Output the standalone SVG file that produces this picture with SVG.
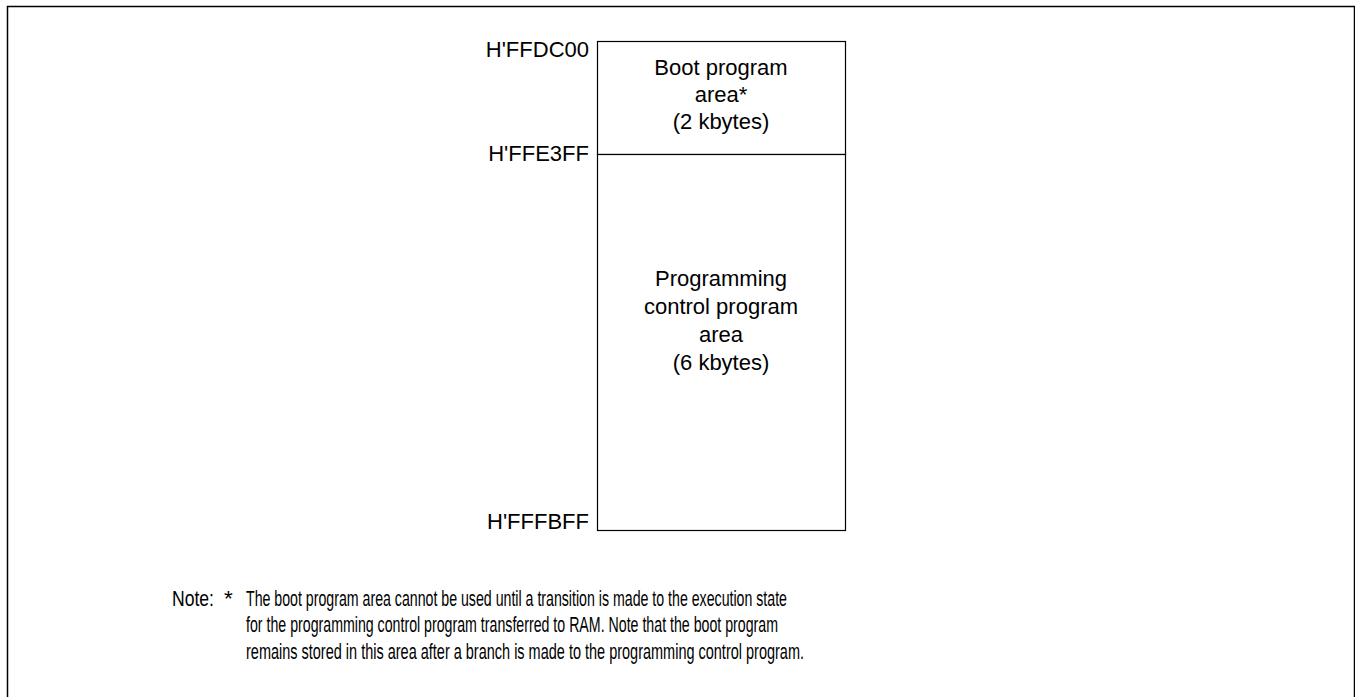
<svg xmlns="http://www.w3.org/2000/svg" width="1355" height="697" viewBox="0 0 1355 697">
<style>
.t{font-family:"Liberation Sans",Arial,sans-serif;font-size:22px;fill:#000}
.c{text-anchor:middle}
.r{text-anchor:end}
.n{font-family:"Liberation Sans",Arial,sans-serif;font-size:22.5px;fill:#000}
.box{fill:#fff;stroke:#000;stroke-width:1.2}
</style>
<rect x="0" y="0" width="1355" height="697" fill="#fff"/>
<path d="M7.5 700 V6.5 H1354.5 V700" fill="none" stroke="#000" stroke-width="1.5"/>
<g id="boot-area">
<rect class="box" x="597.5" y="41.5" width="248" height="113"/>
<text class="t c" x="721" y="75">Boot program</text>
<text class="t c" x="721" y="102">area*</text>
<text class="t c" x="721" y="129">(2 kbytes)</text>
</g>
<g id="prog-area">
<rect class="box" x="597.5" y="154.5" width="248" height="376"/>
<text class="t c" x="721" y="286">Programming</text>
<text class="t c" x="721" y="314">control program</text>
<text class="t c" x="721" y="342">area</text>
<text class="t c" x="721" y="370">(6 kbytes)</text>
</g>
<g id="labels">
<text class="t r" x="589" y="57">H'FFDC00</text>
<text class="t r" x="589" y="161">H'FFE3FF</text>
<text class="t r" x="589" y="529">H'FFFBFF</text>
</g>
<g id="connectors"></g>
<g id="note">
<text class="n" x="172" y="606" textLength="42" lengthAdjust="spacingAndGlyphs">Note:</text>
<text class="n" x="224" y="606" font-size="16">*</text>
<text class="n" x="246" y="606" textLength="541" lengthAdjust="spacingAndGlyphs">The boot program area cannot be used until a transition is made to the execution state</text>
<text class="n" x="246" y="632" textLength="532" lengthAdjust="spacingAndGlyphs">for the programming control program transferred to RAM. Note that the boot program</text>
<text class="n" x="246" y="659" textLength="558" lengthAdjust="spacingAndGlyphs">remains stored in this area after a branch is made to the programming control program.</text>
</g>
</svg>
